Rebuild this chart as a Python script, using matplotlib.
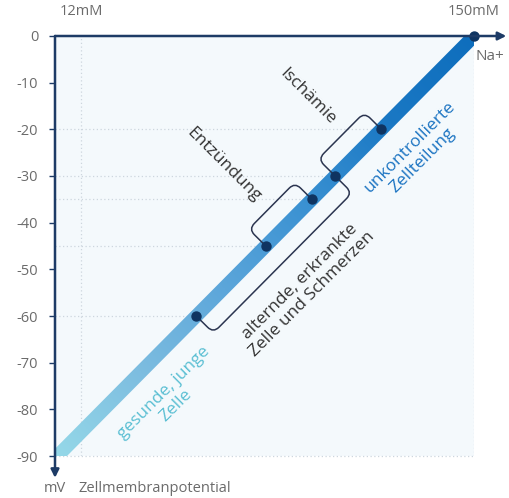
import matplotlib
matplotlib.use("Agg")
import matplotlib.pyplot as plt
import numpy as np
from matplotlib.colors import LinearSegmentedColormap
from matplotlib.patches import Polygon, PathPatch
from matplotlib.path import Path

plt.rcParams['font.family'] = ['Open Sans', 'DejaVu Sans']

# Data
stage_na = [52.5, 76.9, 93.1, 101.25, 117.5, 150]     # mM
stage_mv = [-60, -45, -35, -30, -20, 0]               # mV
line_start = (-12.5, -100)                            # goes past the axes, gets clipped
y_ticks = [0, -10, -20, -30, -40, -50, -60, -70, -80, -90]
y_ticklabels = ["0", "-10", "-20", "-30", "-40", "-50", "-60", "-70", "-80", "-90"]
x_marks = [12, 150]
x_marklabels = ["12mM", "150mM"]

navy = "#1d3b66"
grey = "#6b6b6b"
dark = "#333333"
grid_c = "#cdd6de"

fig = plt.figure(figsize=(5.1, 4.98), dpi=100)
ax = fig.add_axes([55/510, 1-456/498, 419/510, 420/498])
ax.set_facecolor("#f4f9fc")
ax.set_xlim(2.9, 150)
ax.set_ylim(-90, 0)
for s in ax.spines.values():
    s.set_visible(False)

# dotted helper lines
for xm in x_marks:
    ax.plot([xm, xm], [-90, 0], color=grid_c, lw=0.9, ls=(0, (1, 2)), zorder=1)
for xs, ys in zip(stage_na[:-1], stage_mv[:-1]):
    ax.plot([2.9, xs], [ys, ys], color=grid_c, lw=0.9, ls=(0, (1, 2)), zorder=1)
ax.plot([2.9, 150], [-90, -90], color=grid_c, lw=0.9, ls=(0, (1, 2)), zorder=1, clip_on=False)

# thick gradient line: stroke outline in pixels, filled with a colour ramp
to_px = ax.transData
to_data = ax.transData.inverted()
p0 = np.array(to_px.transform(line_start))
p1 = np.array(to_px.transform((stage_na[-1], stage_mv[-1])))
u = (p1 - p0) / np.linalg.norm(p1 - p0)
n = np.array([-u[1], u[0]])
half = 6.8
p1e = p1 + u * 8
outline_px = [p0 + n*half, p1e + n*half, p1e - n*half, p0 - n*half]
outline = Polygon(to_data.transform(outline_px), closed=True, transform=ax.transData,
                  facecolor="none", edgecolor="none")
ax.add_patch(outline)

cmap = LinearSegmentedColormap.from_list(
    "na", ["#95d8e8", "#7dbde0", "#5ca6da", "#3a91d2", "#1a78c4", "#0e6ebd"])
gx, gy = np.meshgrid(np.linspace(0, 1, 300), np.linspace(0, 1, 300))
ramp = (gx + gy) / 2
img = ax.imshow(ramp, extent=[2.9, 150, -90, 0], origin="lower", cmap=cmap,
                aspect="auto", interpolation="bilinear", zorder=2)
img.set_clip_path(outline)
ax.set_xlim(2.9, 150)
ax.set_ylim(-90, 0)


def bracket(i1, i2, side, d=24, r=8):
    a = np.array(to_px.transform((stage_na[i1], stage_mv[i1])))
    b = np.array(to_px.transform((stage_na[i2], stage_mv[i2])))
    uu = (b - a) / np.linalg.norm(b - a)
    nn = np.array([-uu[1], uu[0]]) * side
    verts = [a,
             a + nn*(d - r), a + nn*d, a + nn*d + uu*r,
             b + nn*d - uu*r, b + nn*d, b + nn*(d - r),
             b]
    codes = [Path.MOVETO, Path.LINETO, Path.CURVE3, Path.CURVE3,
             Path.LINETO, Path.CURVE3, Path.CURVE3, Path.LINETO]
    path = Path(to_data.transform(verts), codes)
    ax.add_patch(PathPatch(path, facecolor="none", edgecolor="#2b3550", lw=1.1,
                           transform=ax.transData, zorder=3))


bracket(1, 2, 1)
bracket(3, 4, 1)
bracket(0, 3, -1)

ax.scatter(stage_na, stage_mv, s=42, color="#0f3461", zorder=5, clip_on=False)

# axes arrows
ax.annotate("", xy=(1.077, 1), xytext=(0, 1), xycoords="axes fraction",
            arrowprops=dict(arrowstyle="-|>", color=navy, lw=1.8, mutation_scale=12,
                            shrinkA=0, shrinkB=0), zorder=6)
ax.annotate("", xy=(0, -0.052), xytext=(0, 1), xycoords="axes fraction",
            arrowprops=dict(arrowstyle="-|>", color=navy, lw=1.8, mutation_scale=12,
                            shrinkA=0, shrinkB=0), zorder=6)

ax.set_xticks([])
ax.set_yticks(y_ticks)
ax.set_yticklabels(y_ticklabels)
ax.tick_params(axis="y", length=4, width=1, color=navy, pad=8, labelsize=10.5,
               labelcolor=grey)

for xm, lab in zip(x_marks, x_marklabels):
    ax.annotate(lab, xy=(xm, 0), xytext=(0, 12), textcoords="offset points",
                ha="center", va="bottom", fontsize=10.5, color=grey)
ax.text(1.038, 0.95, "Na+", transform=ax.transAxes, ha="center", va="center",
        fontsize=11, color=grey)
ax.text(0.0, -0.078, "mV", transform=ax.transAxes, ha="center", va="center",
        fontsize=10.5, color=grey)
ax.text(0.057, -0.078, "Zellmembranpotential", transform=ax.transAxes, ha="left",
        va="center", fontsize=10.5, color=grey)

# stage labels
ax.text(43.3, -77.8, "gesunde, junge\nZelle", rotation=45, ha="center", va="center",
        rotation_mode="anchor", fontsize=12.5, color="#5bbfd3", linespacing=1.2)
ax.text(62.2, -27.6, "Entzündung", rotation=-45, ha="center", va="center",
        rotation_mode="anchor", fontsize=12.5, color=dark)
ax.text(91.4, -13.1, "Ischämie", rotation=-45, ha="center", va="center",
        rotation_mode="anchor", fontsize=12.5, color=dark)
ax.text(91.0, -54.0, "alternde, erkrankte\nZelle und Schmerzen", rotation=45,
        ha="center", va="center", rotation_mode="anchor", fontsize=12.5, color=dark,
        linespacing=1.2)
ax.text(129.7, -25.3, "unkontrollierte\nZellteilung", rotation=45, ha="center",
        va="center", rotation_mode="anchor", fontsize=12.5, color="#1c74c2",
        linespacing=1.2)

fig.savefig("out.png", dpi=100)
